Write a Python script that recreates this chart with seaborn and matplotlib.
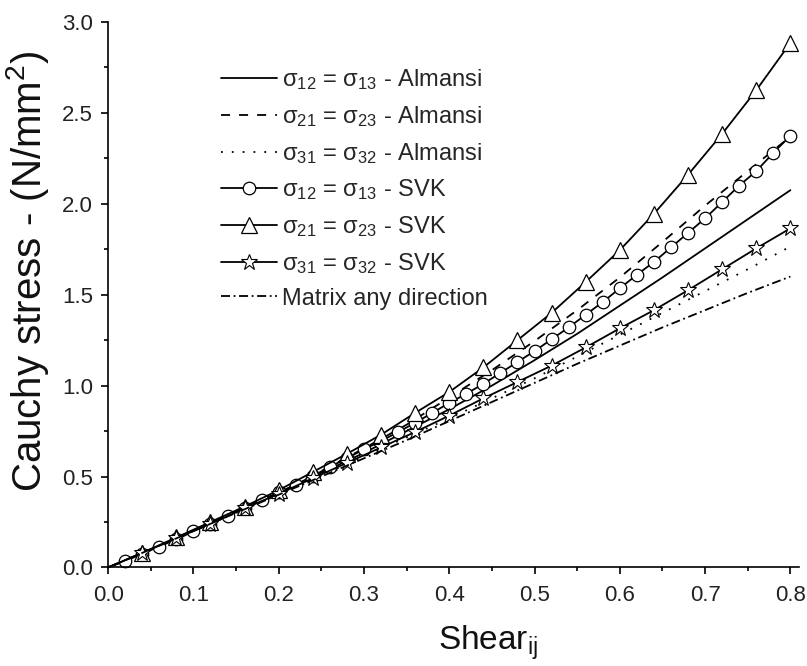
import matplotlib
matplotlib.use("Agg")
import matplotlib.pyplot as plt
from matplotlib.ticker import MultipleLocator, FormatStrFormatter
import seaborn as sns

# shear values
x_line = [0.0, 0.05, 0.10, 0.15, 0.20, 0.25, 0.30, 0.35, 0.40, 0.45, 0.50,
          0.55, 0.60, 0.65, 0.70, 0.75, 0.80]
x_circ = [0.0, 0.02, 0.04, 0.06, 0.08, 0.10, 0.12, 0.14, 0.16, 0.18, 0.20,
          0.22, 0.24, 0.26, 0.28, 0.30, 0.32, 0.34, 0.36, 0.38, 0.40, 0.42,
          0.44, 0.46, 0.48, 0.50, 0.52, 0.54, 0.56, 0.58, 0.60, 0.62, 0.64,
          0.66, 0.68, 0.70, 0.72, 0.74, 0.76, 0.78, 0.80]
x_tri = [0.0, 0.04, 0.08, 0.12, 0.16, 0.20, 0.24, 0.28, 0.32, 0.36, 0.40,
         0.44, 0.48, 0.52, 0.56, 0.60, 0.64, 0.68, 0.72, 0.76, 0.80]

# Almansi curves + matrix
alm_12 = [0, 0.10, 0.20, 0.305, 0.41, 0.52, 0.63, 0.75, 0.87, 1.00, 1.14,
          1.285, 1.44, 1.595, 1.755, 1.915, 2.075]
alm_21 = [0, 0.10, 0.20, 0.31, 0.415, 0.53, 0.655, 0.785, 0.935, 1.085, 1.245,
          1.415, 1.595, 1.79, 1.99, 2.18, 2.37]
alm_31 = [0, 0.10, 0.20, 0.30, 0.405, 0.505, 0.61, 0.715, 0.82, 0.93, 1.04,
          1.16, 1.28, 1.40, 1.52, 1.64, 1.765]
matrix = [0, 0.10, 0.20, 0.30, 0.40, 0.50, 0.60, 0.70, 0.805, 0.91, 1.015,
          1.12, 1.22, 1.32, 1.415, 1.51, 1.60]

# SVK curves
svk_12 = [0, 0.035, 0.075, 0.115, 0.155, 0.198, 0.24, 0.285, 0.328, 0.372, 0.413,
          0.455, 0.503, 0.553, 0.60, 0.65, 0.695, 0.745, 0.795, 0.85, 0.905, 0.955,
          1.01, 1.07, 1.13, 1.19, 1.255, 1.32, 1.39, 1.46, 1.535, 1.61, 1.68,
          1.76, 1.84, 1.92, 2.01, 2.10, 2.18, 2.28, 2.375]
svk_21 = [0, 0.08, 0.165, 0.25, 0.335, 0.425, 0.525, 0.625, 0.73, 0.85, 0.965,
          1.10, 1.25, 1.40, 1.57, 1.745, 1.945, 2.16, 2.385, 2.625, 2.885]
svk_31 = [0, 0.08, 0.16, 0.24, 0.325, 0.405, 0.49, 0.575, 0.66, 0.745, 0.835,
          0.93, 1.02, 1.11, 1.21, 1.315, 1.415, 1.525, 1.64, 1.755, 1.865]

labels = [
    r"$\sigma_{12}$ = $\sigma_{13}$ - Almansi",
    r"$\sigma_{21}$ = $\sigma_{23}$ - Almansi",
    r"$\sigma_{31}$ = $\sigma_{32}$ - Almansi",
    r"$\sigma_{12}$ = $\sigma_{13}$ - SVK",
    r"$\sigma_{21}$ = $\sigma_{23}$ - SVK",
    r"$\sigma_{31}$ = $\sigma_{32}$ - SVK",
    "Matrix any direction",
]

sns.set_theme(style="ticks")
plt.rcParams["font.family"] = ["Liberation Sans", "DejaVu Sans"]
plt.rcParams["mathtext.default"] = "regular"
plt.rcParams["axes.linewidth"] = 1.2

fig = plt.figure(figsize=(8.07, 6.66), dpi=100)
ax = fig.add_axes([0.134, 0.148, 0.856, 0.819])

lw = 1.3
mk = dict(markerfacecolor="white", markeredgecolor="black",
          markevery=slice(1, None), clip_on=False)
sns.lineplot(x=x_line, y=alm_12, ax=ax, color="black", linewidth=lw,
             linestyle="-", label=labels[0])
sns.lineplot(x=x_line, y=alm_21, ax=ax, color="black", linewidth=lw,
             linestyle=(0, (5, 5)), label=labels[1])
sns.lineplot(x=x_line, y=alm_31, ax=ax, color="black", linewidth=lw,
             linestyle=(0, (1, 5)), label=labels[2])
sns.lineplot(x=x_circ, y=svk_12, ax=ax, color="black", linewidth=lw,
             marker="o", markersize=9, markeredgewidth=0.9, label=labels[3], **mk)
sns.lineplot(x=x_tri, y=svk_21, ax=ax, color="black", linewidth=lw,
             marker="^", markersize=11, markeredgewidth=0.9, label=labels[4], **mk)
sns.lineplot(x=x_tri, y=svk_31, ax=ax, color="black", linewidth=lw,
             marker="*", markersize=12, markeredgewidth=0.8, label=labels[5], **mk)
sns.lineplot(x=x_line, y=matrix, ax=ax, color="black", linewidth=lw,
             linestyle=(0, (5, 2, 1, 2)), label=labels[6])

ax.set_xlim(0, 0.81)
ax.set_ylim(0, 3.0)
ax.xaxis.set_major_locator(MultipleLocator(0.1))
ax.xaxis.set_minor_locator(MultipleLocator(0.05))
ax.yaxis.set_major_locator(MultipleLocator(0.5))
ax.yaxis.set_minor_locator(MultipleLocator(0.25))
ax.tick_params(which="major", direction="out", length=5, width=1.2,
               labelsize=16, color="black", labelcolor="#222222")
ax.tick_params(which="minor", direction="out", length=3, width=1.2, color="black")
ax.tick_params(axis="x", which="major", pad=8)
ax.tick_params(axis="y", which="major", pad=6)
ax.xaxis.set_major_formatter(FormatStrFormatter("%.1f"))
ax.yaxis.set_major_formatter(FormatStrFormatter("%.1f"))
sns.despine(ax=ax)
for s in ["left", "bottom"]:
    ax.spines[s].set_color("black")

ax.set_xlabel("Shear$_{ij}$", fontsize=24, color="#111111")
ax.set_ylabel("Cauchy stress - (N/mm$^2$)", fontsize=29, color="#111111")
ax.xaxis.set_label_coords(0.55, -0.103)
ax.yaxis.set_label_coords(-0.082, 0.543)

leg = ax.legend(loc="upper left", bbox_to_anchor=(0.149, 0.934), frameon=False,
                fontsize=17, handlelength=2.4, handletextpad=0.2,
                labelspacing=0.5, borderaxespad=0)

fig.savefig("out.png", dpi=100)
